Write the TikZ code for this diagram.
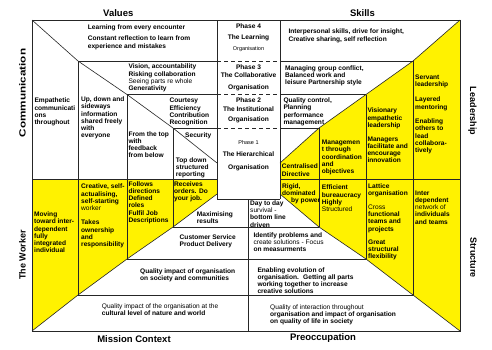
\documentclass[tikz,border=0pt]{standalone}
\usepackage{fontspec}
\setmainfont{Liberation Sans}
\newcommand\litefont{\mdseries}
\tikzset{
  ln/.style={line width=0.6pt, draw=black!85},
  dsh/.style={line width=0.6pt, draw=black!85, dash pattern=on 4pt off 3pt},
  ylw/.style={fill=yellow, draw=none},
  cell/.style={anchor=north west, inner sep=0pt, align=left,
    font=\bfseries\fontsize{6.6}{7.2}\selectfont,
    execute at begin node={\rule{0pt}{5pt}}},
  ctr/.style={anchor=north, inner sep=0pt, align=center,
    font=\bfseries\fontsize{6.6}{7.2}\selectfont,
    execute at begin node={\rule{0pt}{5pt}}},
  ttl/.style={inner sep=0pt, font=\bfseries\fontsize{9.5}{11}\selectfont},
  vttl/.style={inner sep=0pt, font=\bfseries\fontsize{9}{11}\selectfont},
}
\begin{document}
\begin{tikzpicture}[x=1pt,y=-1pt]
\useasboundingbox (0,0) rectangle (492,349);
\fill[white] (0,0) rectangle (492,349);

% yellow regions
\path[ylw] (32,179) -- (217,179) -- (217,194) -- (173,227) -- (127,259) -- (78,295) -- (32,331) -- cycle;
\path[ylw] (460,20) -- (413,61) -- (366,94.5) -- (319,128) -- (280,163) -- (280,194) -- (319,227) -- (366,259) -- (413,295) -- (460,331) -- cycle;

% outer frame
\draw[ln] (32,20) rectangle (460,331);

% diagonals
\draw[ln] (32,20) -- (78,61) -- (127,94.5) -- (173,128) -- (217,163);
\draw[ln] (460,20) -- (413,61) -- (366,94.5) -- (319,128) -- (280,163);
\draw[ln] (32,331) -- (78,295) -- (127,259) -- (173,227) -- (217,194);
\draw[ln] (460,331) -- (413,295) -- (366,259) -- (319,227) -- (280,194);

% horizontals
\draw[ln] (78,61) -- (217,61);  \draw[dsh] (217,61) -- (280,61);  \draw[ln] (280,61) -- (413,61);
\draw[ln] (127,94.5) -- (217,94.5); \draw[dsh] (217,94.5) -- (280,94.5); \draw[ln] (280,94.5) -- (366,94.5);
\draw[ln] (173,128) -- (217,128); \draw[dsh] (217,128) -- (280,128); \draw[ln] (280,128) -- (319,128);
\draw[ln] (32,179) -- (217,179);
\draw[ln] (280,179) -- (460,179);
\draw[ln] (217,199) -- (280,199);
\draw[ln] (173,227) -- (319,227);
\draw[ln] (127,259) -- (366,259);
\draw[ln] (78,295) -- (413,295);

% verticals
\draw[ln] (78,61) -- (78,295);
\draw[ln] (127,94.5) -- (127,259);
\draw[ln] (173,128) -- (173,227);
\draw[ln] (217,20) -- (217,199);
\draw[ln] (280,20) -- (280,199);
\draw[ln] (319,128) -- (319,227);
\draw[ln] (366,94.5) -- (366,259);
\draw[ln] (413,61) -- (413,295);
\draw[ln] (248.5,199) -- (248.5,331);

% titles
\node[ttl] (values) at (118.3,12.7) {Values};
\node[ttl] (skills) at (362.5,12.7) {Skills};
\node[ttl] (mission) at (134,339.3) {Mission Context};
\node[ttl] (preocc) at (323,338.3) {Preoccupation};
\node[vttl, rotate=90] (comm) at (22.5,93) {\scalebox{1.3}[1]{Communication}};
\node[vttl, rotate=90] (worker) at (22.5,255) {The Worker};
\node[vttl, rotate=-90] (lead) at (472.5,111) {Leadership};
\node[vttl, rotate=-90] (struct) at (473.5,257.5) {Structure};

% phases
\node[ctr] (ph4) at (248.5,24) {Phase 4\\[3.8pt]The Learning\\[3.4pt]{\litefont\fontsize{5.5}{6}\selectfont Organisation}};
\node[ctr] (ph3) at (248.5,64.3) {Phase 3\\[1.3pt]The Collaborative\\[4.8pt]Organisation};
\node[ctr] (ph2) at (248.5,97.8) {Phase 2\\[1.8pt]The Institutional\\[2.3pt]Organisation};
\node[ctr] (ph1) at (248.5,140.6) {{\litefont\fontsize{5.5}{6}\selectfont Phase 1}\\[4.8pt]The Hierarchical\\[5.8pt]Organisation};

% top cells
\node[cell] (learn) at (87.7,24.3) {Learning from every encounter\\[4.5pt]Constant reflection to learn from\\experience and mistakes};
\node[cell] (inter) at (288.3,29) {Interpersonal skills, drive for insight,\\Creative sharing, self reflection};
\node[cell] (vision) at (128.3,64) {Vision, accountability\\Risking collaboration\\{\litefont Seeing parts re whole}\\Generativity};
\node[cell] (managing) at (285,65.6) {Managing group conflict,\\Balanced work and\\leisure Partnership style};
\node[cell] (courtesy) at (169.3,98) {Courtesy\\Efficiency\\Contribution\\Recognition};
\node[cell] (qcontrol) at (283.3,97.8) {Quality control,\\Planning\\performance\\management};
\node[cell] (security) at (185,132.3) {Security};
\node[cell] (central) at (281.7,164) {Centralised\\Directive};

% left upper
\node[cell] (empath) at (34.3,98) {Empathetic\\communicati\\ons\\throughout};
\node[cell] (updown) at (81,96.8) {Up, down and\\sideways\\information\\shared freely\\with\\everyone};
\node[cell] (fromtop) at (128.3,131.3) {From the top\\with\\feedback\\from below};
\node[cell] (topdown) at (175.7,157.3) {Top down\\structured\\reporting};

% left lower (yellow)
\node[cell] (moving) at (34,211.8) {Moving\\toward inter-\\dependent\\fully\\integrated\\individual};
\node[cell] (creative) at (81,184) {Creative, self-\\actualising,\\self-starting\\{\litefont worker}\\[7.2pt]Takes\\ownership\\and\\responsibility};
\node[cell] (follows) at (128.3,181.3) {Follows\\directions\\Defined\\roles\\Fulfil Job\\Descriptions};
\node[cell] (receives) at (174,181.3) {Receives\\orders. Do\\your job.};

% bottom cells
\node[cell] (maxim) at (196.7,211.6) {Maximising\\results};
\node[cell] (customer) at (179.5,234.6) {Customer Service\\Product Delivery};
\node[cell] (qisoc) at (140,268.3) {Quality impact of organisation\\on society and communities};
\node[cell] (qicult) at (101.7,303.3) {{\litefont Quality impact of the organisation at the}\\cultural level of nature and world};
\node[cell] (daytoday) at (250,200.6) {Day to day\\{\litefont survival -}\\bottom line\\driven};
\node[cell] (identify) at (253.3,232.3) {Identify problems and\\{\litefont create solutions - Focus}\\on measurments};
\node[cell] (enabling) at (257.3,267.3) {Enabling evolution of\\organisation.~ Getting all parts\\working together to increase\\creative solutions};
\node[cell] (qoi) at (270,304.6) {{\litefont Quality of interaction throughout}\\organisation and impact of organisation\\on quality of life in society};

% right cells (yellow)
\node[cell] (rigid) at (282,183.3) {Rigid,\\dominated\\\hspace*{9pt}by power};
\node[cell] (efficient) at (321.7,185) {Efficient\\bureaucracy\\Highly\\{\litefont Structured}};
\node[cell] (managemen) at (321.7,140) {Managemen\\t through\\coordination\\and\\objectives};
\node[cell] (visionary) at (367.3,108) {Visionary\\empathetic\\leadership};
\node[cell] (managers) at (367.3,136.6) {Managers\\facilitate and\\encourage\\innovation};
\node[cell] (lattice) at (368,183.3) {Lattice\\organisation\\[6.8pt]{\litefont Cross}\\functional\\teams and\\projects\\[6pt]Great\\structural\\flexibility};
\node[cell] (servant) at (415,74.6) {Servant\\leadership\\[8pt]Layered\\mentoring\\[7.5pt]Enabling\\others to\\lead\\collabora-\\tively};
\node[cell] (interdep) at (415,190.6) {Inter\\dependent\\{\litefont network of}\\individuals\\and teams};
\end{tikzpicture}
\end{document}
